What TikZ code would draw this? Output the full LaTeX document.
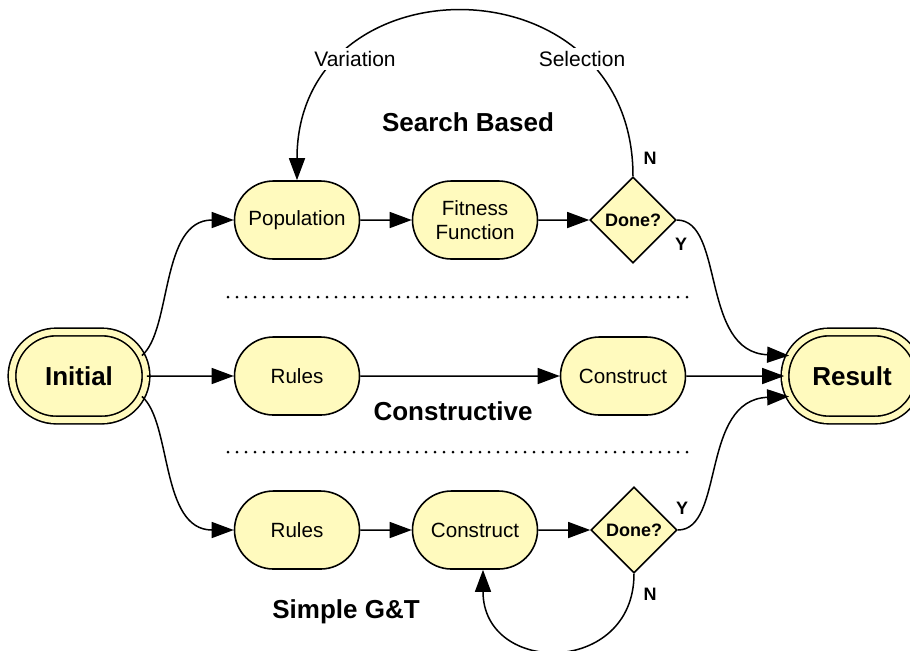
\documentclass[tikz,border=0pt]{standalone}
\usepackage{fontspec}
\setmainfont{Liberation Sans}
\usetikzlibrary{shapes.misc,shapes.geometric,arrows.meta}
\definecolor{nodefill}{RGB}{255,250,190}
\begin{document}
\begin{tikzpicture}[x=0.5pt,y=-0.5pt,
  term/.style={rounded rectangle, draw=black, line width=0.8pt, double=nodefill, double distance=3pt,
    fill=nodefill, minimum width=67pt, minimum height=44pt, inner sep=0pt,
    font=\fontsize{13}{15}\selectfont\bfseries},
  proc/.style={rounded rectangle, draw=black, line width=0.8pt, fill=nodefill,
    minimum width=62.5pt, minimum height=39pt, inner sep=0pt, align=center,
    font=\fontsize{10.3}{12}\selectfont},
  dec/.style={diamond, draw=black, line width=0.8pt, fill=nodefill, minimum width=43pt,
    minimum height=43pt, inner sep=0pt, font=\fontsize{9}{11}\selectfont\bfseries},
  arr/.style={-{Triangle[length=11pt,width=8pt]}, line width=0.75pt},
  title/.style={font=\fontsize{13}{15}\selectfont\bfseries},
  yn/.style={font=\fontsize{9}{11}\selectfont\bfseries},
  lab/.style={fill=white, inner sep=1.5pt, font=\fontsize{10.5}{12}\selectfont},
  sep/.style={line width=1.5pt, dash pattern=on 0pt off 4.5pt, line cap=round}
]
\useasboundingbox (0,0) rectangle (910,650);

% nodes
\node[term] (init) at (79,376) {Initial};
\node[term] (res) at (852,376) {Result};

\node[proc] (pop) at (297,220) {Population};
\node[proc] (fit) at (475,220) {Fitness\\Function};
\node[dec] (done1) at (633,220) {Done?};

\node[proc] (rul1) at (297,376) {Rules};
\node[proc] (con1) at (623,376) {Construct};

\node[proc] (rul2) at (297,530) {Rules};
\node[proc] (con2) at (475,530) {Construct};
\node[dec] (done2) at (634,530) {Done?};

% separators
\coordinate (s1a) at (228,297);
\coordinate (s1b) at (695,297);
\coordinate (s2a) at (228,452);
\coordinate (s2b) at (695,452);
\draw[sep] (s1a) -- (s1b);
\draw[sep] (s2a) -- (s2b);

% titles
\node[title] (tsb) at (468,122) {Search Based};
\node[title] (tcon) at (453,411) {Constructive};
\node[title] (tsgt) at (346,612) {Simple G\&T};

% top loop
\draw[arr] (done1.north) .. controls (633,-43) and (297,-43) .. (pop.north);
\node[lab] (lvar) at (355,59) {Variation};
\node[lab] (lsel) at (582,59) {Selection};

% bottom loop
\coordinate (c2in) at ([xshift=4pt]con2.south);
\draw[arr] (done2.south) .. controls (634,676) and (483,676) .. (c2in);

% connectors
\draw[arr] (init.18) .. controls (172,330) and (160,220) .. (pop.west);
\draw[arr] (init) -- (rul1);
\draw[arr] (init.-18) .. controls (172,422) and (160,530) .. (rul2.west);

\draw[arr] (pop) -- (fit);
\draw[arr] (fit) -- (done1);
\draw[arr] (rul1) -- (con1);
\draw[arr] (rul2) -- (con2);
\draw[arr] (con2) -- (done2);

\draw[arr] (done1.east) .. controls (725,220) and (700,352) .. (res.162);
\draw[arr] (con1) -- (res);
\draw[arr] (done2.east) .. controls (725,530) and (700,400) .. (res.198);

% Y/N labels
\node[yn] (n1) at (650,158) {N};
\node[yn] (y1) at (681,244) {Y};
\node[yn] (y2) at (682,508) {Y};
\node[yn] (n2) at (650,594) {N};
\end{tikzpicture}
\end{document}
